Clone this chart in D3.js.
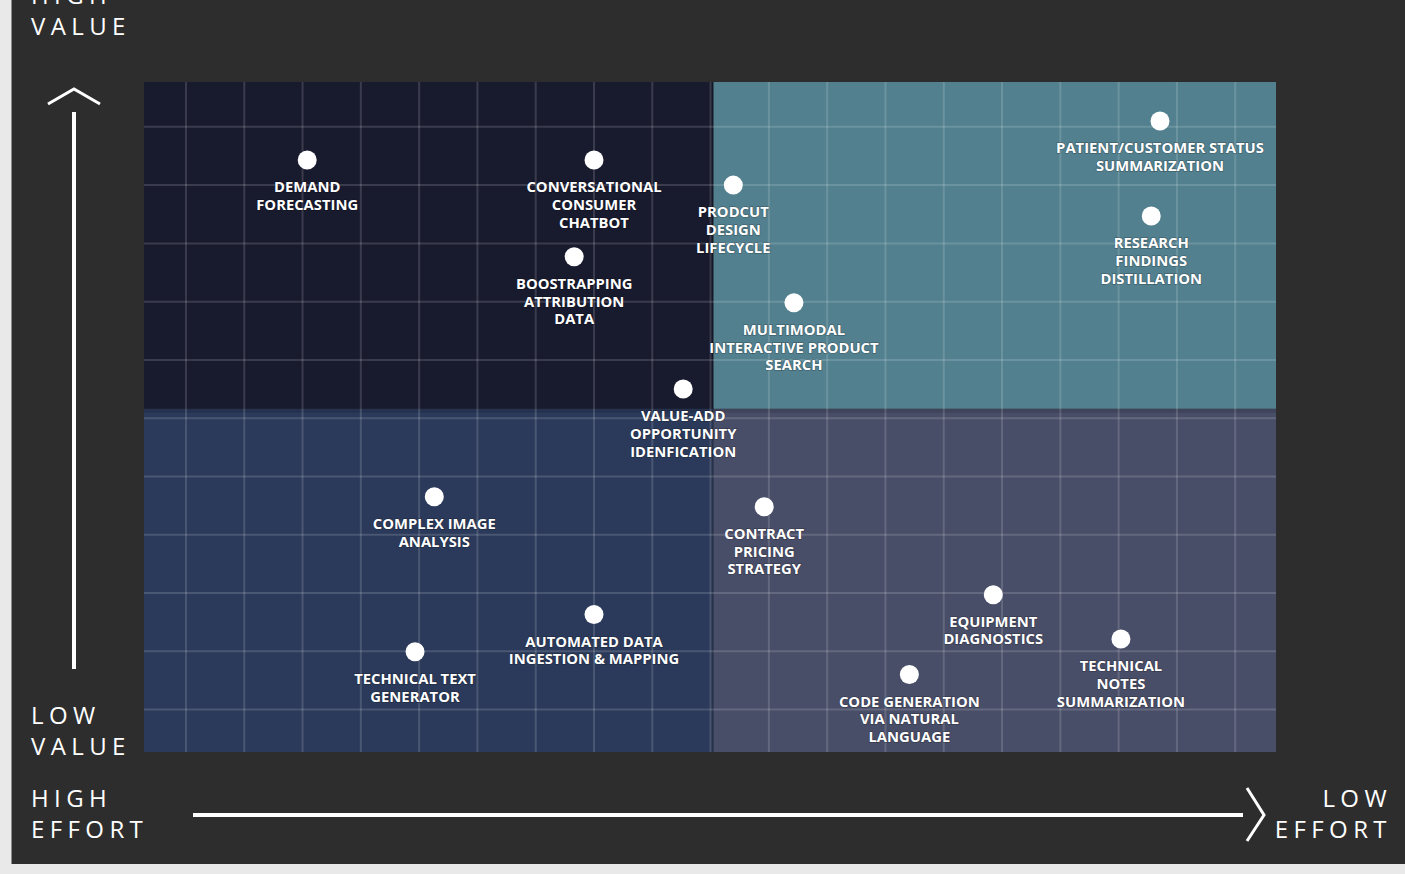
<!DOCTYPE html>
<html>
<head>
<meta charset="utf-8">
<script src="https://cdn.jsdelivr.net/npm/d3@7"></script>
<style>
  html, body { margin: 0; padding: 0; background: #e9e9e9; }
  svg { display: block; }
  .lbl { font-family: "Open Sans", sans-serif; font-weight: 700; font-size: 14.8px; fill: #fff; }
  .axis-txt { font-family: "Open Sans", sans-serif; font-size: 24px; fill: #fff; letter-spacing: 5.4px; }
</style>
</head>
<body>
<div id="matrix"></div>
<script>
// use cases: x = ease (left high effort -> right low effort), y = value
var names = [
  ["DEMAND", "FORECASTING"],
  ["CONVERSATIONAL", "CONSUMER", "CHATBOT"],
  ["PRODCUT", "DESIGN", "LIFECYCLE"],
  ["BOOSTRAPPING", "ATTRIBUTION", "DATA"],
  ["PATIENT/CUSTOMER STATUS", "SUMMARIZATION"],
  ["RESEARCH", "FINDINGS", "DISTILLATION"],
  ["MULTIMODAL", "INTERACTIVE PRODUCT", "SEARCH"],
  ["VALUE-ADD", "OPPORTUNITY", "IDENFICATION"],
  ["COMPLEX IMAGE", "ANALYSIS"],
  ["CONTRACT", "PRICING", "STRATEGY"],
  ["AUTOMATED DATA", "INGESTION & MAPPING"],
  ["TECHNICAL TEXT", "GENERATOR"],
  ["EQUIPMENT", "DIAGNOSTICS"],
  ["TECHNICAL", "NOTES", "SUMMARIZATION"],
  ["CODE GENERATION", "VIA NATURAL", "LANGUAGE"]
];
var ease  = [2.08, 7.0, 9.39, 6.66, 16.71, 16.56, 10.43, 8.53, 4.26, 9.92, 7.0, 3.93, 13.85, 16.04, 12.41];
var value = [9.43, 9.43, 9.0, 7.77, 10.1, 8.47, 6.98, 5.5, 3.65, 3.48, 1.63, 0.99, 1.97, 1.21, 0.6];

var gridX = d3.range(0, 19);
var gridY = d3.range(0, 11);
var splitX = 9.05;
var splitY = 5.16;

var w = 1405;
var h = 874;
var svg = d3.select("#matrix")
  .append("svg")
  .attr("width", w)
  .attr("height", h);

// dark panel
svg.append("rect").attr("x", 12).attr("y", 0).attr("width", w - 12).attr("height", 864).attr("fill", "#2d2d2d");
svg.append("line").attr("x1", 11.5).attr("x2", 11.5).attr("y1", 0).attr("y2", 864).attr("stroke", "#8c8c8c").attr("stroke-width", 1);

var x = d3.scaleLinear().domain([-0.72, 18.7]).range([144, 1276]);
var y = d3.scaleLinear().domain([-0.73, 10.77]).range([752, 82]);

// quadrants
var quads = [
  {x0: x.domain()[0], x1: splitX, y0: splitY, y1: y.domain()[1], fill: "#181a2e"},
  {x0: splitX, x1: x.domain()[1], y0: splitY, y1: y.domain()[1], fill: "#52808f"},
  {x0: x.domain()[0], x1: splitX, y0: y.domain()[0], y1: splitY, fill: "#2b3a5a"},
  {x0: splitX, x1: x.domain()[1], y0: y.domain()[0], y1: splitY, fill: "#494e68"}
];
svg.selectAll("rect.quad")
  .data(quads)
  .enter()
  .append("rect")
  .attr("class", "quad")
  .attr("x", function(d) { return x(d.x0); })
  .attr("y", function(d) { return y(d.y1); })
  .attr("width", function(d) { return x(d.x1) - x(d.x0); })
  .attr("height", function(d) { return y(d.y0) - y(d.y1); })
  .attr("fill", function(d) { return d.fill; });

// soft seam between the quadrants
svg.append("rect").attr("x", x(x.domain()[0])).attr("y", y(splitY)).attr("width", x(x.domain()[1]) - x(x.domain()[0])).attr("height", 4)
  .attr("fill", "#000").attr("opacity", 0.12);
svg.append("rect").attr("x", x(splitX) - 3).attr("y", y(y.domain()[1])).attr("width", 3).attr("height", y(y.domain()[0]) - y(y.domain()[1]))
  .attr("fill", "#000").attr("opacity", 0.12);

// grid
svg.selectAll("line.gx")
  .data(gridX)
  .enter()
  .append("line")
  .attr("class", "gx")
  .attr("x1", function(d) { return x(d); })
  .attr("x2", function(d) { return x(d); })
  .attr("y1", 82).attr("y2", 752)
  .attr("stroke", "#fff").attr("stroke-opacity", 0.15).attr("stroke-width", 2);
svg.selectAll("line.gy")
  .data(gridY)
  .enter()
  .append("line")
  .attr("class", "gy")
  .attr("y1", function(d) { return y(d); })
  .attr("y2", function(d) { return y(d); })
  .attr("x1", 144).attr("x2", 1276)
  .attr("stroke", "#fff").attr("stroke-opacity", 0.15).attr("stroke-width", 2);

// points
var pts = names.map(function(n, i) { return {lines: n, ex: ease[i], val: value[i]}; });

svg.selectAll("circle")
  .data(pts)
  .enter()
  .append("circle")
  .attr("cx", function(d) { return x(d.ex); })
  .attr("cy", function(d) { return y(d.val); })
  .attr("r", 9.5)
  .attr("fill", "#fff");

var lbl = svg.selectAll("text.lbl")
  .data(pts)
  .enter()
  .append("text")
  .attr("class", "lbl")
  .attr("text-anchor", "middle")
  .attr("x", function(d) { return x(d.ex); })
  .attr("y", function(d) { return y(d.val) + 32; })
  .style("paint-order", "stroke")
  .attr("stroke", "rgba(0,0,0,0.25)")
  .attr("stroke-width", 1.5);
lbl.selectAll("tspan")
  .data(function(d) { return d.lines.map(function(l) { return {t: l, x: x(d.ex)}; }); })
  .enter()
  .append("tspan")
  .attr("x", function(d) { return d.x; })
  .attr("dy", function(d, i) { return i === 0 ? 0 : 17.8; })
  .text(function(d) { return d.t; });

// value arrow
svg.append("line").attr("x1", 74).attr("x2", 74).attr("y1", 112).attr("y2", 669)
  .attr("stroke", "#fff").attr("stroke-width", 4);
svg.append("path").attr("d", "M48,104 L74,89 L100,104")
  .attr("fill", "none").attr("stroke", "#fff").attr("stroke-width", 3);

// effort arrow
svg.append("line").attr("x1", 193).attr("x2", 1243).attr("y1", 815).attr("y2", 815)
  .attr("stroke", "#fff").attr("stroke-width", 4);
svg.append("path").attr("d", "M1247,788 L1264,815 L1247,841")
  .attr("fill", "none").attr("stroke", "#fff").attr("stroke-width", 3);

// axis words
var words = [
  {t: "HIGH", x: 31, y: 4, a: "start"},
  {t: "VALUE", x: 31, y: 35, a: "start"},
  {t: "LOW", x: 31, y: 724, a: "start"},
  {t: "VALUE", x: 31, y: 755, a: "start"},
  {t: "HIGH", x: 31, y: 807, a: "start"},
  {t: "EFFORT", x: 31, y: 838, a: "start"},
  {t: "LOW", x: 1392, y: 807, a: "end"},
  {t: "EFFORT", x: 1392, y: 838, a: "end"}
];
svg.selectAll("text.axis-txt")
  .data(words)
  .enter()
  .append("text")
  .attr("class", "axis-txt")
  .attr("x", function(d) { return d.x; })
  .attr("y", function(d) { return d.y; })
  .attr("text-anchor", function(d) { return d.a; })
  .text(function(d) { return d.t; });
</script>
</body>
</html>
